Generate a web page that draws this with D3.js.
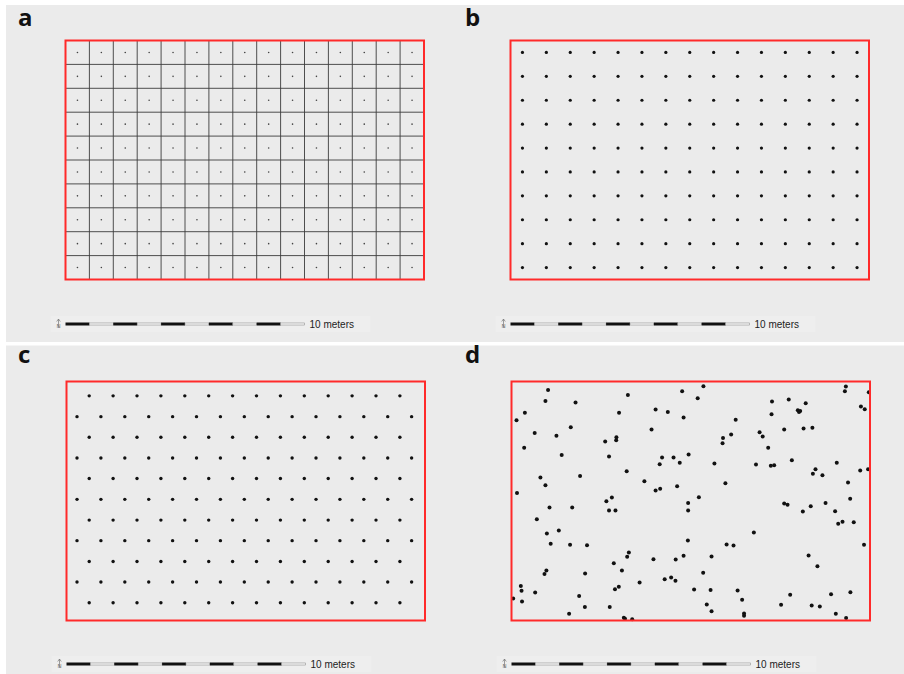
<!DOCTYPE html>
<html>
<head>
<meta charset="utf-8">
<script src="https://cdn.jsdelivr.net/npm/d3@7"></script>
<style>
  body { margin: 0; background: #fff; }
  svg { display: block; }
</style>
</head>
<body>
<div id="chart"></div>
<script>
var chart_width = 904;
var chart_height = 674;

// plot is 15 x 10 meters
var field_w = 15;
var field_h = 10;

// grid cell edges (panel a) and cell centres (panels a, b)
var grid_x = [0, 1, 2, 3, 4, 5, 6, 7, 8, 9, 10, 11, 12, 13, 14, 15];
var grid_y = [0, 1, 2, 3, 4, 5, 6, 7, 8, 9, 10];
var centre_x = [0.5, 1.5, 2.5, 3.5, 4.5, 5.5, 6.5, 7.5, 8.5, 9.5, 10.5, 11.5, 12.5, 13.5, 14.5];
var centre_y = [0.5, 1.5, 2.5, 3.5, 4.5, 5.5, 6.5, 7.5, 8.5, 9.5];

// hexagonal layout (panel c)
var hex_rows = [0.60, 1.47, 2.33, 3.20, 4.06, 4.93, 5.80, 6.66, 7.53, 8.39, 9.26];
var hex_cols_long = [0.44, 1.44, 2.44, 3.44, 4.44, 5.44, 6.44, 7.44, 8.44, 9.44, 10.44, 11.44, 12.44, 13.44, 14.44];
var hex_cols_short = [0.95, 1.95, 2.95, 3.95, 4.95, 5.95, 6.95, 7.95, 8.95, 9.95, 10.95, 11.95, 12.95, 13.95];

// random sample (panel d), meters from the top-left corner
var random_x = [1.53, 1.42, 2.68, 4.87, 7.14, 0.56, 0.21, 4.50, 6.03, 6.54, 7.20, 2.48, 0.97, 1.88, 4.39, 4.38, 3.92, 5.86,
  0.53, 2.10, 4.08, 6.30, 6.78, 7.41, 6.20, 7.04, 4.82, 1.21, 2.87, 1.42, 5.56, 6.03, 6.22, 6.93, 0.23, 4.20,
  8.03, 7.79, 10.90, 11.60, 12.31, 11.98, 12.08, 12.03, 10.88, 13.99, 13.95, 14.95, 14.62, 14.78, 9.38, 10.38,
  10.51, 11.41, 12.22, 12.59, 8.85, 9.19, 8.83, 10.74, 8.49, 10.23, 10.85, 10.99, 11.73, 13.61, 12.72, 12.61,
  13.01, 14.59, 14.92, 8.95, 14.08, 7.84, 14.17,
  1.59, 2.54, 3.97, 4.08, 4.35, 7.39, 7.39, 1.06, 1.48, 1.98, 1.64, 2.45, 3.16, 7.38, 4.91, 4.84, 5.94, 6.87,
  7.20, 4.28, 1.46, 1.38, 3.08, 4.62, 5.36, 6.41, 6.68, 6.86, 0.39, 0.42, 0.99, 4.33, 4.49, 0.07, 0.44, 2.83,
  3.07, 4.11, 2.41, 4.70, 4.75, 5.05,
  11.41, 11.55, 12.52, 12.19, 13.14, 13.54, 13.67, 13.85, 14.32, 10.14, 9.00, 9.29, 14.75, 8.37, 12.43, 12.80,
  8.02, 7.64, 8.33, 9.46, 9.65, 11.66, 13.37, 14.18, 8.17, 8.37, 9.73, 9.73, 11.28, 12.56, 12.90, 13.57, 14.00];
var random_y = [0.36, 0.82, 0.88, 0.56, 0.41, 1.31, 1.62, 1.31, 1.17, 1.28, 1.51, 1.91, 2.15, 2.27, 2.33, 2.46, 2.51, 2.01,
  2.77, 3.08, 3.14, 3.18, 3.18, 3.05, 3.46, 3.40, 3.75, 4.02, 3.95, 4.34, 4.17, 4.56, 4.49, 4.38, 4.67, 4.85,
  0.20, 0.70, 0.84, 0.75, 0.91, 1.20, 1.23, 1.28, 1.37, 0.21, 0.41, 0.45, 1.05, 1.16, 1.60, 2.12,
  2.30, 2.01, 1.97, 1.94, 2.36, 2.22, 2.58, 2.77, 3.43, 3.47, 3.53, 3.50, 3.29, 3.40, 3.67, 3.86,
  3.92, 3.72, 3.67, 4.26, 4.23, 4.84, 4.91,
  5.27, 5.27, 5.01, 5.40, 5.40, 5.08, 5.40, 5.76, 6.36, 6.23, 6.79, 6.83, 6.85, 6.65, 7.15, 7.33, 7.44, 7.45,
  7.29, 7.60, 7.91, 8.05, 8.03, 7.91, 8.41, 8.27, 8.20, 8.34, 8.56, 8.76, 8.83, 8.69, 8.59, 9.08, 9.20, 8.98,
  9.43, 9.44, 9.72, 9.89, 9.93, 9.95,
  5.10, 5.16, 5.22, 5.44, 5.08, 5.43, 5.95, 5.87, 5.89, 6.32, 6.82, 6.86, 6.83, 7.32, 7.28, 7.73,
  8.00, 8.70, 8.72, 8.74, 9.13, 8.92, 8.90, 8.82, 9.33, 9.61, 9.71, 9.80, 9.34, 9.37, 9.41, 9.72, 9.90];

// scale bar segments (meters)
var bar_segments = [0, 1, 2, 3, 4, 5, 6, 7, 8, 9];
var bar_label = '10 meters';

var panel_labels = ['a', 'b', 'c', 'd'];

var px_per_m = 23.9;

var svg = d3.select('#chart')
            .append('svg')
            .attr('width', chart_width)
            .attr('height', chart_height);

//Grey backgrounds
svg.append('rect').attr('x', 6).attr('y', 5).attr('width', 898).attr('height', 337).attr('fill', '#ebebeb');
svg.append('rect').attr('x', 6).attr('y', 345.5).attr('width', 898).attr('height', 329).attr('fill', '#ebebeb');

var panels = [
    { id: 'a', x0: 65.5, y0: 40.5, lx: 18, ly: 26, bar_y: 324 },
    { id: 'b', x0: 510.5, y0: 40.5, lx: 465, ly: 26, bar_y: 324 },
    { id: 'c', x0: 66.5, y0: 381.5, lx: 18, ly: 363, bar_y: 664 },
    { id: 'd', x0: 511.5, y0: 381.5, lx: 465, ly: 363, bar_y: 664 }
];

panels.forEach((p, i) => {
    var g = svg.append('g');

    var x_scale = d3.scaleLinear()
                    .domain([0, field_w])
                    .range([p.x0, p.x0 + field_w * px_per_m]);
    var y_scale = d3.scaleLinear()
                    .domain([0, field_h])
                    .range([p.y0, p.y0 + field_h * px_per_m]);
    p.x = x_scale;
    p.y = y_scale;
    p.g = g;

    // scale bar backing box
    g.append('rect')
        .attr('x', x_scale(0) - 15)
        .attr('y', p.bar_y - 8)
        .attr('width', 320)
        .attr('height', 16)
        .attr('fill', '#eeeeee');

    var bar_scale = d3.scaleLinear()
                      .domain([0, 10])
                      .range([x_scale(0), x_scale(0) + 10 * px_per_m]);

    g.selectAll('rect.seg')
        .data(bar_segments)
        .enter()
        .append('rect')
        .attr('class', 'seg')
        .attr('x', (d) => bar_scale(d))
        .attr('y', (d) => d % 2 === 0 ? p.bar_y - 1.5 : p.bar_y - 1)
        .attr('width', bar_scale(1) - bar_scale(0))
        .attr('height', (d) => d % 2 === 0 ? 3 : 2)
        .attr('fill', (d) => d % 2 === 0 ? '#111' : '#fff')
        .attr('stroke', (d) => d % 2 === 0 ? 'none' : '#888')
        .attr('stroke-width', 0.6);

    g.append('text')
        .attr('x', bar_scale(10) + 5)
        .attr('y', p.bar_y + 3.5)
        .attr('font-family', 'Liberation Sans, Arial, sans-serif')
        .attr('font-size', 10)
        .attr('fill', '#222')
        .text(bar_label);

    // north arrow
    var nx = x_scale(0) - 7;
    g.append('line')
        .attr('x1', nx).attr('x2', nx)
        .attr('y1', p.bar_y - 5).attr('y2', p.bar_y + 4)
        .attr('stroke', '#777').attr('stroke-width', 0.7);
    g.append('path')
        .attr('d', 'M' + (nx - 1.8) + ',' + (p.bar_y - 2.5) + 'L' + nx + ',' + (p.bar_y - 5) + 'L' + (nx + 1.8) + ',' + (p.bar_y - 2.5))
        .attr('fill', 'none').attr('stroke', '#777').attr('stroke-width', 0.7);
    g.append('text')
        .attr('x', nx).attr('y', p.bar_y + 3.5)
        .attr('text-anchor', 'middle')
        .attr('font-family', 'DejaVu Sans, sans-serif')
        .attr('font-size', 5.5)
        .attr('fill', '#777')
        .text('N');

    // panel letter
    svg.append('text')
        .attr('x', p.lx)
        .attr('y', p.ly)
        .attr('font-family', 'Open Sans, sans-serif')
        .attr('font-weight', 'bold')
        .attr('font-size', 24)
        .attr('fill', '#111')
        .text(panel_labels[i]);
});

//Panel a: grid cells with centre marks
var pa = panels[0];
pa.g.selectAll('line.vx')
    .data(grid_x)
    .enter()
    .append('line')
    .attr('x1', (d) => pa.x(d)).attr('x2', (d) => pa.x(d))
    .attr('y1', pa.y(0)).attr('y2', pa.y(field_h))
    .attr('stroke', '#3c3c3c').attr('stroke-width', 0.9);
pa.g.selectAll('line.hy')
    .data(grid_y)
    .enter()
    .append('line')
    .attr('y1', (d) => pa.y(d)).attr('y2', (d) => pa.y(d))
    .attr('x1', pa.x(0)).attr('x2', pa.x(field_w))
    .attr('stroke', '#3c3c3c').attr('stroke-width', 0.9);

var centres = [];
centre_y.forEach((cy) => centre_x.forEach((cx) => centres.push([cx, cy])));

pa.g.selectAll('circle')
    .data(centres)
    .enter()
    .append('circle')
    .attr('cx', (d) => pa.x(d[0]))
    .attr('cy', (d) => pa.y(d[1]))
    .attr('r', 0.8)
    .attr('fill', '#444');

//Panel b: systematic points
var pb = panels[1];
pb.g.selectAll('circle')
    .data(centres)
    .enter()
    .append('circle')
    .attr('cx', (d) => pb.x(d[0]))
    .attr('cy', (d) => pb.y(d[1]))
    .attr('r', 1.6)
    .attr('fill', '#111');

//Panel c: hexagonal points
var pc = panels[2];
var hex_points = [];
hex_rows.forEach((ry, k) => {
    var cols = k % 2 === 0 ? hex_cols_short : hex_cols_long;
    cols.forEach((cx) => hex_points.push([cx, ry]));
});
pc.g.selectAll('circle')
    .data(hex_points)
    .enter()
    .append('circle')
    .attr('cx', (d) => pc.x(d[0]))
    .attr('cy', (d) => pc.y(d[1]))
    .attr('r', 1.7)
    .attr('fill', '#111');

//Panel d: random points
var pd = panels[3];
pd.g.selectAll('circle')
    .data(random_x.map((d, i) => [d, random_y[i]]))
    .enter()
    .append('circle')
    .attr('cx', (d) => pd.x(d[0]))
    .attr('cy', (d) => pd.y(d[1]))
    .attr('r', 2)
    .attr('fill', '#111');

//Red plot boundaries on top
panels.forEach((p) => {
    p.g.append('rect')
        .attr('x', p.x(0))
        .attr('y', p.y(0))
        .attr('width', p.x(field_w) - p.x(0))
        .attr('height', p.y(field_h) - p.y(0))
        .attr('fill', 'none')
        .attr('stroke', '#ff2a2a')
        .attr('stroke-width', 2);
});
</script>
</body>
</html>
